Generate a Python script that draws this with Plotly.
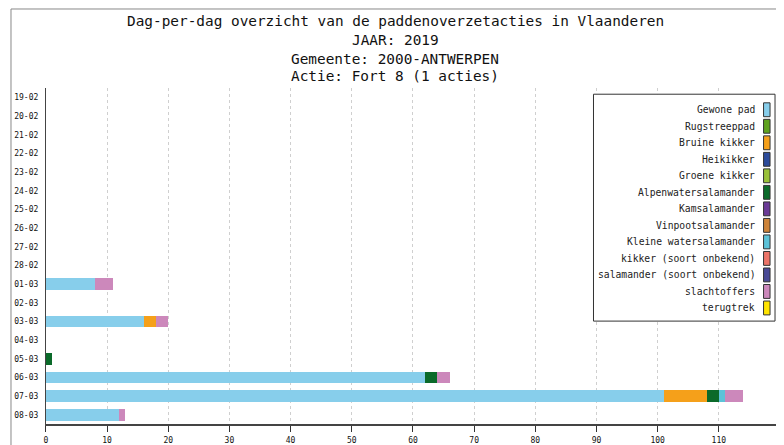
import plotly.graph_objects as go

# The page body adds an 8px margin, so the figure is drawn 8px smaller and
# all reference pixel positions are shifted by OFF.
OFF = 8
W, H = 784 - OFF, 445 - OFF

dates = ["19-02", "20-02", "21-02", "22-02", "23-02", "24-02", "25-02", "26-02", "27-02",
         "28-02", "01-03", "02-03", "03-03", "04-03", "05-03", "06-03", "07-03", "08-03"]

species = ["Gewone pad", "Rugstreeppad", "Bruine kikker", "Heikikker", "Groene kikker",
           "Alpenwatersalamander", "Kamsalamander", "Vinpootsalamander",
           "Kleine watersalamander", "kikker (soort onbekend)",
           "salamander (soort onbekend)", "slachtoffers", "terugtrek"]

colors = ["#87CEEB", "#5FA21E", "#F5A01A", "#2B4A9A", "#9AC23A", "#0B6A2A", "#6A3A96",
          "#CD843A", "#5CC2D8", "#EC7468", "#4A4A96", "#CC88BB", "#FFE400"]

gewone_pad =        [0, 0, 0, 0, 0, 0, 0, 0, 0, 0, 8, 0, 16, 0, 0, 62, 101, 12]
rugstreeppad =      [0, 0, 0, 0, 0, 0, 0, 0, 0, 0, 0, 0, 0, 0, 0, 0, 0, 0]
bruine_kikker =     [0, 0, 0, 0, 0, 0, 0, 0, 0, 0, 0, 0, 2, 0, 0, 0, 7, 0]
heikikker =         [0, 0, 0, 0, 0, 0, 0, 0, 0, 0, 0, 0, 0, 0, 0, 0, 0, 0]
groene_kikker =     [0, 0, 0, 0, 0, 0, 0, 0, 0, 0, 0, 0, 0, 0, 0, 0, 0, 0]
alpenwatersal =     [0, 0, 0, 0, 0, 0, 0, 0, 0, 0, 0, 0, 0, 0, 1, 2, 2, 0]
kamsalamander =     [0, 0, 0, 0, 0, 0, 0, 0, 0, 0, 0, 0, 0, 0, 0, 0, 0, 0]
vinpootsal =        [0, 0, 0, 0, 0, 0, 0, 0, 0, 0, 0, 0, 0, 0, 0, 0, 0, 0]
kleine_watersal =   [0, 0, 0, 0, 0, 0, 0, 0, 0, 0, 0, 0, 0, 0, 0, 0, 1, 0]
kikker_onbekend =   [0, 0, 0, 0, 0, 0, 0, 0, 0, 0, 0, 0, 0, 0, 0, 0, 0, 0]
salamander_onbek =  [0, 0, 0, 0, 0, 0, 0, 0, 0, 0, 0, 0, 0, 0, 0, 0, 0, 0]
slachtoffers =      [0, 0, 0, 0, 0, 0, 0, 0, 0, 0, 3, 0, 2, 0, 0, 2, 3, 1]
terugtrek =         [0, 0, 0, 0, 0, 0, 0, 0, 0, 0, 0, 0, 0, 0, 0, 0, 0, 0]

series = [gewone_pad, rugstreeppad, bruine_kikker, heikikker, groene_kikker, alpenwatersal,
          kamsalamander, vinpootsal, kleine_watersal, kikker_onbekend, salamander_onbek,
          slachtoffers, terugtrek]

x_ticks = [0, 10, 20, 30, 40, 50, 60, 70, 80, 90, 100, 110, 120]

title_lines = ["Dag-per-dag overzicht van de paddenoverzetacties in Vlaanderen",
               "JAAR: 2019", "Gemeente: 2000-ANTWERPEN", "Actie: Fort 8 (1 acties)"]

MONO = "DejaVu Sans Mono"

fig = go.Figure()
for name, vals, col in zip(species, series, colors):
    fig.add_trace(go.Bar(y=dates, x=vals, orientation="h", name=name,
                         marker=dict(color=col, line=dict(width=0)),
                         width=0.62, showlegend=False))


def px(x):
    return (x - OFF) / W


def py(y):
    return 1 - (y - OFF) / H


PL, PR, PT, PB = 44, 780, 89, 428

fig.update_layout(
    width=W, height=H,
    margin=dict(l=0, r=0, t=0, b=0),
    paper_bgcolor="white", plot_bgcolor="white",
    barmode="stack",
    font=dict(family=MONO, color="#222"),
    xaxis=dict(domain=[px(PL), px(PR)], range=[0, 120], tickvals=x_ticks,
               ticktext=[str(v) for v in x_ticks],
               showgrid=True, gridcolor="#cfcfcf", griddash="dot", gridwidth=1,
               zeroline=False, showline=True, linecolor="#444", linewidth=2,
               ticks="outside", ticklen=6, tickcolor="#333", tickwidth=1,
               ticklabelstandoff=1,
               tickfont=dict(family=MONO, size=8, color="#111")),
    yaxis=dict(domain=[py(PB), py(PT)], type="category", categoryorder="array",
               categoryarray=dates, autorange="reversed",
               showgrid=False, zeroline=False, showline=True, mirror=True,
               linecolor="#444", linewidth=1, ticks="",
               ticklabelstandoff=5,
               tickfont=dict(family=MONO, size=8, color="#111")),
)

annotations = []
title_y = [21, 40, 59, 77]
for t, yy in zip(title_lines, title_y):
    annotations.append(dict(text=t, x=px(394), y=py(yy), xref="paper", yref="paper",
                            xanchor="center", yanchor="middle", showarrow=False,
                            font=dict(family=MONO, size=14.4, color="#111")))

shapes = []
# outer frame
shapes.append(dict(type="rect", xref="paper", yref="paper", x0=px(9), y0=py(9),
                   x1=px(800), y1=py(460), line=dict(color="#888", width=1),
                   fillcolor="rgba(0,0,0,0)", layer="below"))

# legend box
LX0, LY0, LX1, LY1 = 593, 95, 775, 324
shapes.append(dict(type="rect", xref="paper", yref="paper", x0=px(LX0), y0=py(LY0),
                   x1=px(LX1), y1=py(LY1), line=dict(color="#333", width=1),
                   fillcolor="white"))
for i, (name, col) in enumerate(zip(species, colors)):
    cy = 110.7 + i * 16.67
    annotations.append(dict(text=name, x=px(757), y=py(cy), xref="paper", yref="paper",
                            xanchor="right", yanchor="middle", showarrow=False,
                            font=dict(family=MONO, size=9.7, color="#222")))
    shapes.append(dict(type="rect", xref="paper", yref="paper", x0=px(763.5),
                       y0=py(cy - 7), x1=px(770), y1=py(cy + 7),
                       line=dict(color="#333", width=1), fillcolor=col))

fig.update_layout(annotations=annotations, shapes=shapes)

fig.write_html("out.html")
